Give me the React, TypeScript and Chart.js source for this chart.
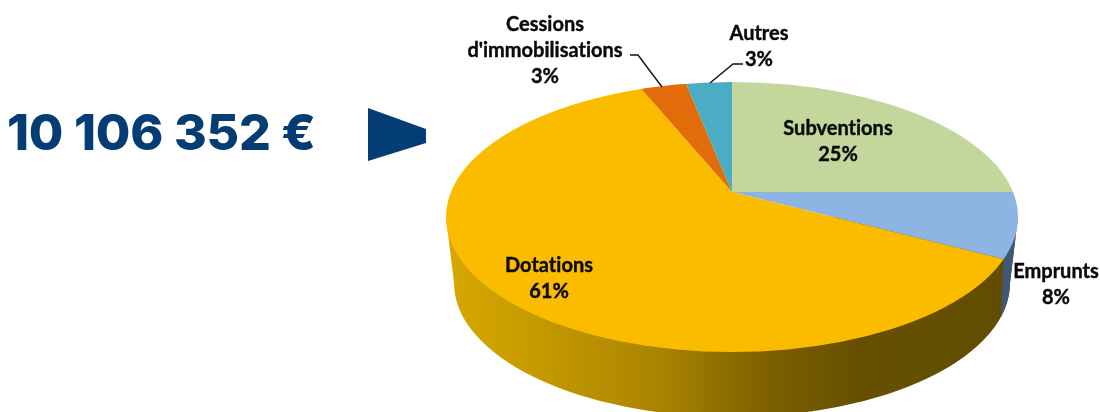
import React, { useEffect, useRef } from "react";
import { Chart, registerables } from "chart.js";

Chart.register(...registerables);

const categories = ["Subventions", "Emprunts", "Dotations", "Cessions d'immobilisations", "Autres"];
const values = [25, 8, 61, 3, 3];
const colours = ["#C3D69B", "#8EB4E3", "#FBBC00", "#E26B0A", "#4BACC6"];
const totalLabel = "10 106 352 €";

const NAVY = "#033D73";
const LABEL_FONT = "700 20px Lato, 'Open Sans', sans-serif";
const LINE_H = 26;

// Perspective of the 3D pie, as seen in the picture
const APEX = { x: 732, y: 192 };
const TILT = 0.45;
const TOP = { x: 732, y: 217, rx: 286, ry: 135 };
const BASE = { x: 732, y: 283, rx: 278, ry: 134 };

const labelPlaces = [
  { x: 838, y: 129, lines: ["Subventions"] },
  { x: 1056, y: 272, lines: ["Emprunts"] },
  { x: 549, y: 266, lines: ["Dotations"] },
  { x: 545, y: 25, lines: ["Cessions", "d'immobilisations"] },
  { x: 759, y: 34, lines: ["Autres"] },
];

const pie3d = {
  id: "pie3d",
  beforeDatasetsDraw(chart: any) {
    const ctx = chart.ctx as CanvasRenderingContext2D;
    const wall = () => {
      ctx.beginPath();
      ctx.ellipse(BASE.x, BASE.y, BASE.rx, BASE.ry, 0, 0, Math.PI);
      ctx.lineTo(TOP.x - TOP.rx, TOP.y);
      ctx.lineTo(TOP.x + TOP.rx, TOP.y);
      ctx.closePath();
    };
    ctx.save();
    const g = ctx.createLinearGradient(TOP.x - TOP.rx, 0, TOP.x + TOP.rx, 0);
    g.addColorStop(0, "#D8A800");
    g.addColorStop(0.16, "#C49A00");
    g.addColorStop(0.355, "#AD8600");
    g.addColorStop(0.566, "#7C6000");
    g.addColorStop(0.72, "#665000");
    g.addColorStop(1, "#624C00");
    ctx.fillStyle = g;
    wall();
    ctx.fill();
    // Emprunts' part of the wall
    ctx.save();
    wall();
    ctx.clip();
    ctx.fillStyle = "#3F5878";
    ctx.beginPath();
    ctx.moveTo(1004, 255);
    ctx.lineTo(1000, 340);
    ctx.lineTo(1040, 340);
    ctx.lineTo(1040, 200);
    ctx.closePath();
    ctx.fill();
    ctx.restore();
    ctx.restore();

    ctx.save();
    ctx.beginPath();
    ctx.ellipse(TOP.x, TOP.y, TOP.rx, TOP.ry, 0, 0, Math.PI * 2);
    ctx.clip();
    ctx.translate(APEX.x, APEX.y);
    ctx.scale(1, TILT);
    ctx.translate(-APEX.x, -APEX.y);
  },
  afterDatasetsDraw(chart: any) {
    const ctx = chart.ctx as CanvasRenderingContext2D;
    ctx.restore();

    // Total and arrow
    ctx.save();
    ctx.fillStyle = NAVY;
    ctx.font = "800 50px Inter, sans-serif";
    (ctx as any).letterSpacing = "-0.2px";
    ctx.textBaseline = "alphabetic";
    ctx.textAlign = "left";
    ctx.fillText(totalLabel, 7, 150);
    (ctx as any).letterSpacing = "0px";
    ctx.beginPath();
    ctx.moveTo(368, 108);
    ctx.lineTo(426, 129);
    ctx.lineTo(426, 143);
    ctx.lineTo(368, 161);
    ctx.closePath();
    ctx.fill();

    // Leader lines
    ctx.strokeStyle = "#111";
    ctx.lineWidth = 1.4;
    ctx.beginPath();
    ctx.moveTo(630, 55);
    ctx.lineTo(638, 55);
    ctx.lineTo(662, 87);
    ctx.moveTo(743, 64);
    ctx.lineTo(733, 64);
    ctx.lineTo(710, 83);
    ctx.stroke();

    // Labels
    ctx.fillStyle = "#0A0A0A";
    ctx.strokeStyle = "#0A0A0A";
    ctx.lineWidth = 0.4;
    ctx.font = LABEL_FONT;
    (ctx as any).letterSpacing = "0.01px";
    ctx.textAlign = "center";
    ctx.textBaseline = "middle";
    const total = values.reduce((a, b) => a + b, 0);
    labelPlaces.forEach((p, i) => {
      const lines = [...p.lines, `${Math.round((values[i] / total) * 100)}%`];
      lines.forEach((t, j) => {
        ctx.fillText(t, p.x, p.y + j * LINE_H);
        ctx.strokeText(t, p.x, p.y + j * LINE_H);
      });
    });
    ctx.restore();
  },
};

export default function App() {
  const ref = useRef<HTMLCanvasElement>(null);
  useEffect(() => {
    document.body.style.margin = "0";
    const chart = new Chart(ref.current!, {
      type: "pie",
      data: {
        labels: categories,
        datasets: [
          {
            data: values,
            backgroundColor: colours,
            borderWidth: 0,
            radius: 700,
            clip: false,
          } as any,
        ],
      },
      options: {
        responsive: false,
        animation: false,
        layout: { padding: { left: 364, bottom: 28 } },
        plugins: { legend: { display: false }, tooltip: { enabled: false } },
      },
      plugins: [pie3d],
    });
    return () => chart.destroy();
  }, []);
  return <canvas ref={ref} width={1100} height={412} style={{ display: "block", position: "fixed", left: 0, top: 0 }} />;
}
